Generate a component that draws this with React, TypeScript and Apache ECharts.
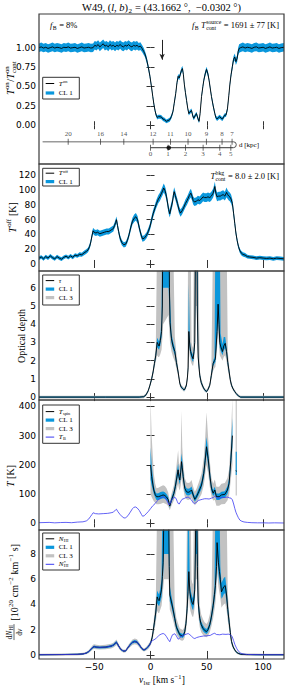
import React, { useEffect, useRef } from 'react';
import * as echarts from 'echarts';

// ---------------- data ----------------
// [v_lsr, T_on/T_on_cont, CL1 half width]
const tOnRatio: number[][] = [
  [-99, 1.0, 0.055], [-97, 1.01, 0.055], [-95, 0.995, 0.055], [-93, 1.005, 0.055], [-91, 0.99, 0.055],
  [-89, 1.0, 0.055], [-87, 1.01, 0.055], [-85, 0.995, 0.055], [-83, 1.005, 0.055], [-81, 1.0, 0.055],
  [-79, 0.99, 0.055], [-77, 1.005, 0.055], [-75, 1.0, 0.055], [-73, 1.01, 0.055], [-71, 0.995, 0.055],
  [-69, 1.0, 0.055], [-67, 1.005, 0.055], [-65, 0.99, 0.055], [-63, 1.0, 0.055], [-61, 1.01, 0.055],
  [-59, 0.995, 0.055], [-57, 1.0, 0.055], [-55, 1.005, 0.055], [-53, 0.995, 0.055], [-51, 1.0, 0.055],
  [-49.5, 1.03, 0.055], [-48, 1.02, 0.055], [-46.5, 1.04, 0.055], [-45, 1.01, 0.055], [-43.5, 1.03, 0.055],
  [-42, 1.05, 0.055], [-40.5, 1.02, 0.055], [-39, 1.03, 0.055], [-37.5, 1.01, 0.055], [-36, 1.04, 0.055],
  [-34.5, 1.02, 0.055], [-33, 1.03, 0.055], [-31.5, 1.01, 0.055], [-30, 1.03, 0.055], [-28.5, 1.02, 0.055],
  [-27, 1.04, 0.055], [-25.5, 1.02, 0.055], [-24, 1.01, 0.055], [-22.5, 1.03, 0.055], [-21, 1.02, 0.055],
  [-19.5, 1.04, 0.055], [-18, 1.02, 0.055], [-16.5, 1.01, 0.055], [-15, 1.03, 0.055], [-13.5, 1.02, 0.055],
  [-12, 1.03, 0.055], [-10.5, 1.01, 0.05], [-9, 1.02, 0.05], [-7.5, 0.99, 0.045], [-6, 0.95, 0.045],
  [-5, 0.92, 0.04], [-3.5, 0.85, 0.04], [-2, 0.75, 0.035], [-0.5, 0.63, 0.035], [1, 0.48, 0.03],
  [2, 0.37, 0.03], [3, 0.27, 0.03], [4, 0.19, 0.025], [5, 0.13, 0.025], [6, 0.1, 0.025],
  [7, 0.11, 0.025], [8.5, 0.11, 0.025], [10, 0.1, 0.025], [11, 0.08, 0.025], [12.5, 0.07, 0.025],
  [14, 0.05, 0.025], [15.5, 0.06, 0.025], [17, 0.07, 0.025], [18.5, 0.11, 0.025], [20, 0.18, 0.025],
  [21, 0.28, 0.03], [22.4, 0.41, 0.03], [23.5, 0.55, 0.03], [24.5, 0.63, 0.03], [25.5, 0.61, 0.03],
  [26.5, 0.66, 0.03], [27.5, 0.71, 0.035], [28.4, 0.73, 0.035], [29.2, 0.65, 0.03], [30, 0.53, 0.03],
  [31, 0.42, 0.03], [32, 0.32, 0.03], [33, 0.22, 0.025], [34, 0.15, 0.025], [35, 0.17, 0.025],
  [36.4, 0.19, 0.025], [37.5, 0.12, 0.025], [38.4, 0.09, 0.025], [39.5, 0.12, 0.025], [40.8, 0.15, 0.025],
  [42, 0.09, 0.025], [43.1, 0.05, 0.025], [44, 0.15, 0.025], [45.3, 0.37, 0.03], [46.5, 0.5, 0.03],
  [47.3, 0.58, 0.03], [48.5, 0.66, 0.035], [49.7, 0.72, 0.035], [51, 0.66, 0.035], [52, 0.58, 0.03],
  [53, 0.48, 0.03], [54.1, 0.37, 0.03], [55.5, 0.26, 0.03], [57.1, 0.15, 0.025], [58, 0.1, 0.025],
  [59.1, 0.08, 0.025], [60.5, 0.1, 0.025], [61.5, 0.11, 0.025], [62.7, 0.09, 0.025], [63.9, 0.08, 0.025],
  [65, 0.11, 0.025], [66, 0.13, 0.025], [67, 0.13, 0.025], [68.3, 0.21, 0.03], [69.5, 0.38, 0.03],
  [70.4, 0.52, 0.035], [71.5, 0.65, 0.035], [72.7, 0.76, 0.04], [73.7, 0.85, 0.04], [74.8, 0.88, 0.045],
  [75.8, 0.82, 0.045], [76.9, 0.86, 0.045], [77.8, 0.95, 0.05], [78.7, 0.99, 0.055], [80, 1.0, 0.055],
  [82, 1.01, 0.055], [84, 0.995, 0.055], [86, 1.005, 0.055], [88, 1.0, 0.055], [90, 0.99, 0.055],
  [92, 1.005, 0.055], [94, 1.01, 0.055], [96, 0.995, 0.055], [98, 1.0, 0.055], [100, 1.005, 0.055],
  [102, 0.99, 0.055], [104, 1.0, 0.055], [106, 1.01, 0.055], [108, 0.995, 0.055], [110, 1.0, 0.055],
  [112, 1.005, 0.055], [114, 0.99, 0.055], [116, 1.0, 0.055], [118.5, 1.005, 0.055],
];

// [v_lsr, T_off (K), CL1 half width]
const tOff: number[][] = [
  [-99, 8, 2.5], [-97, 9.5, 2.5], [-95, 7, 2.5], [-93, 10, 2.5], [-91, 8, 2.5], [-89, 11, 2.5],
  [-87, 8.5, 2.5], [-85, 7, 2.5], [-83, 10, 2.5], [-81, 8, 2.5], [-79, 6.5, 2.5], [-77, 9, 2.5],
  [-75, 10.5, 2.5], [-73, 8.5, 2.5], [-71, 11, 2.5], [-69, 9, 2.5], [-67, 12, 2.5], [-65, 11, 2.5],
  [-63, 13, 2.8], [-61, 12.5, 2.8], [-59, 15, 3], [-57, 17, 3], [-55.5, 19, 3], [-54, 24, 3.5],
  [-53, 30, 3.5], [-52, 38, 3.5], [-51, 45, 4], [-50, 43, 4], [-48.5, 42, 4], [-47, 43, 4],
  [-45, 41, 4], [-43, 42, 4], [-41, 43, 4], [-39, 44, 4], [-37, 44, 4], [-35, 46, 4],
  [-33, 48, 4], [-32, 52, 4], [-31, 56, 4.5], [-30.2, 60, 4.5], [-29.3, 52, 4.5], [-28.3, 44, 4],
  [-27.2, 36, 4], [-25.5, 29, 3.5], [-23.7, 26, 3.5], [-22, 27, 3.5], [-20.5, 32, 3.5], [-19, 40, 4],
  [-17.5, 50, 4.5], [-16, 58, 4.5], [-14.5, 62, 5], [-13, 64, 5], [-11.5, 60, 5], [-10.1, 50, 4.5],
  [-8.5, 40, 4], [-7.1, 34, 4], [-5.5, 35, 4], [-3.5, 39, 4], [-2, 44, 4.5], [-0.6, 50, 4.5],
  [1, 60, 5], [2.3, 68, 5], [4, 76, 5], [5.3, 82, 5.5], [7, 88, 5.5], [8.3, 91, 5.5],
  [9.5, 95, 5.5], [10.7, 99, 6], [11.7, 103, 6], [12.7, 100, 6], [13.5, 96, 6], [14.2, 91, 5.5],
  [15, 84, 5.5], [16, 74, 5.5], [17.1, 68, 5], [18.2, 76, 5.5], [19.5, 84, 5.5], [20.3, 93, 5.5],
  [21, 98, 6], [22, 93, 5.5], [23, 87, 5.5], [24, 82, 5.5], [25.2, 74, 5], [26.6, 69, 5],
  [28, 72, 5], [29.6, 77, 5], [31, 82, 5.5], [32.5, 86, 5.5], [33.4, 89, 5.5], [34.5, 93, 5.5],
  [35.8, 96, 6], [36.8, 92, 5.5], [37.9, 86, 5.5], [39, 84, 5.5], [40.8, 85, 5.5], [42, 87, 5.5],
  [43.7, 86, 5.5], [45, 88, 6], [46.7, 91, 6], [48, 90, 6], [49.7, 90, 6], [51, 91, 6],
  [52.6, 90, 6], [54, 92, 6], [55.6, 96, 6], [56.5, 101, 6.5], [57.1, 105, 6.5], [58, 96, 6],
  [59.1, 91, 6], [60.5, 92, 6], [62, 92, 6], [63, 93, 6], [64.5, 94, 6], [66, 92, 6],
  [67.5, 97, 6.5], [68.5, 94, 6], [69.5, 92, 6], [70.4, 91, 6], [71.5, 88, 6], [72.7, 82, 5.5],
  [73.8, 68, 5], [74.8, 55, 4.5], [75.8, 42, 4], [76.9, 32, 3.5], [78, 24, 3], [79.3, 18, 3],
  [80.5, 15, 3], [82, 13, 2.8], [84, 12, 2.8], [86, 10, 2.5], [88, 9.5, 2.5], [91, 9, 2.5],
  [94, 8, 2.5], [97, 8.5, 2.5], [100, 8, 2.5], [103, 7.5, 2.5], [106, 8, 2.5], [109, 7, 2.5],
  [112, 8, 2.5], [115, 7.5, 2.5], [118.5, 7, 2.5],
];

// [v_lsr, tau, CL1 low, CL1 high, CL3 low, CL3 high]
const tau: number[][] = [
  [-99, 0, -0.03, 0.03, -0.08, 0.08], [-40, 0, -0.03, 0.03, -0.08, 0.08], [-10, 0, -0.03, 0.03, -0.08, 0.08],
  [-6, 0.02, -0.01, 0.05, -0.06, 0.1], [-4, 0.12, 0.09, 0.15, 0.05, 0.2], [-2, 0.35, 0.31, 0.39, 0.27, 0.45],
  [-0.5, 0.65, 0.6, 0.7, 0.55, 0.77], [1, 1.0, 0.93, 1.07, 0.86, 1.15], [2.3, 1.38, 1.3, 1.47, 1.2, 1.6],
  [3.5, 1.85, 1.75, 1.97, 1.6, 2.15], [4.7, 2.3, 2.15, 2.45, 1.95, 2.8], [5.9, 3.0, 2.75, 3.25, 2.3, 9],
  [6.8, 2.9, 2.65, 3.15, 2.2, 9], [7.6, 2.8, 2.6, 3.05, 2.2, 9], [8.7, 3.1, 2.85, 3.4, 2.35, 9],
  [9.8, 3.6, 3.3, 4.2, 2.6, 9], [10.5, 5.0, 4.4, 12, 3.2, 12], [11.2, 12, 6, 12, 4, 12],
  [16, 12, 6, 12, 4.5, 12], [16.8, 6, 4.8, 12, 3.5, 12], [17.3, 4.1, 3.7, 5.5, 3.0, 12],
  [18.6, 3.2, 2.95, 3.5, 2.5, 12], [20, 2.8, 2.6, 3.05, 2.2, 9], [21.6, 2.5, 2.3, 2.7, 1.95, 3.3],
  [23, 1.9, 1.78, 2.05, 1.55, 2.4], [24.5, 1.38, 1.3, 1.47, 1.15, 1.65], [26, 0.75, 0.7, 0.82, 0.6, 0.92],
  [27.2, 0.55, 0.5, 0.6, 0.43, 0.68], [28.4, 0.48, 0.44, 0.53, 0.37, 0.6], [29.5, 0.4, 0.36, 0.44, 0.3, 0.52],
  [30.4, 0.42, 0.38, 0.47, 0.32, 0.55], [31.2, 0.55, 0.5, 0.6, 0.43, 0.68], [31.9, 0.66, 0.6, 0.72, 0.52, 0.82],
  [32.8, 1.1, 1.0, 1.2, 0.88, 1.4], [33.4, 1.6, 1.45, 1.8, 1.3, 9], [34, 3.6, 3.2, 6.2, 2.7, 9],
  [34.9, 2.8, 2.55, 3.1, 2.2, 9], [35.6, 2.5, 2.3, 2.75, 2.0, 9], [36.4, 2.3, 2.1, 2.5, 1.85, 3.0],
  [37.1, 2.2, 2.0, 2.4, 1.75, 2.8], [37.8, 2.1, 1.92, 2.3, 1.7, 2.7], [38.6, 2.5, 2.3, 2.75, 2.0, 9],
  [39.3, 3.0, 2.75, 3.4, 2.4, 9], [39.8, 8, 5, 12, 3.5, 12], [40.3, 12, 8, 12, 5, 12],
  [41, 12, 8, 12, 5, 12], [41.5, 5, 3.8, 12, 3, 12], [42.3, 2.2, 2.0, 2.45, 1.7, 9],
  [43.7, 1.2, 1.1, 1.32, 0.95, 1.5], [45, 0.8, 0.73, 0.88, 0.63, 1.0], [46.7, 0.55, 0.5, 0.6, 0.43, 0.68],
  [48, 0.4, 0.36, 0.44, 0.3, 0.5], [49.7, 0.3, 0.27, 0.34, 0.22, 0.4], [51, 0.42, 0.38, 0.46, 0.32, 0.52],
  [52.6, 0.65, 0.6, 0.71, 0.52, 0.8], [54, 1.2, 1.1, 1.32, 0.95, 1.5], [55.6, 1.85, 1.7, 2.0, 1.45, 9],
  [56.8, 2.0, 1.85, 2.2, 1.6, 9], [57.6, 2.1, 1.93, 9, 1.65, 9], [59.1, 3.6, 3.2, 9, 2.7, 9],
  [60, 5.1, 4.4, 9, 3.5, 9], [60.8, 4.0, 3.5, 9, 2.9, 9], [61.5, 3.0, 2.7, 9, 2.3, 9],
  [62.2, 2.8, 2.55, 3.5, 2.2, 9], [63.9, 2.5, 2.3, 2.9, 2.0, 9], [65, 2.8, 2.55, 3.3, 2.2, 9],
  [66.3, 2.95, 2.7, 3.3, 2.3, 9], [67.5, 2.5, 2.3, 2.75, 1.95, 9], [68.6, 1.9, 1.75, 2.05, 1.5, 2.5],
  [69.8, 1.38, 1.27, 1.5, 1.1, 1.7], [70.8, 0.95, 0.88, 1.03, 0.75, 1.18], [71.9, 0.65, 0.6, 0.7, 0.52, 0.8],
  [73.3, 0.45, 0.41, 0.49, 0.35, 0.56], [74.8, 0.3, 0.27, 0.33, 0.22, 0.4], [76, 0.2, 0.17, 0.23, 0.12, 0.28],
  [76.9, 0.13, 0.1, 0.16, 0.06, 0.22], [78, 0.07, 0.04, 0.1, 0.0, 0.15], [79.3, 0.02, -0.01, 0.05, -0.05, 0.1],
  [80, 0, -0.03, 0.03, -0.08, 0.08], [118.5, 0, -0.03, 0.03, -0.08, 0.08],
];

// [v_lsr, T_spin (K), CL1 low, CL1 high, CL3 low, CL3 high]
const tSpin: number[][] = [
  [0, 200, 150, 260, 100, 430], [1, 160, 130, 200, 90, 300], [2.9, 114, 100, 130, 75, 170],
  [4.2, 98, 88, 110, 70, 135], [5.3, 91, 80, 102, 65, 120], [7, 91, 80, 103, 65, 122],
  [8.5, 93, 82, 106, 66, 125], [9.8, 95, 84, 108, 68, 128], [11.2, 97, 86, 109, 70, 130],
  [12.7, 95, 84, 106, 68, 128], [14.2, 90, 80, 100, 65, 120], [15.7, 81, 72, 90, 58, 105],
  [17.1, 59, 53, 66, 45, 75], [18.6, 79, 71, 88, 60, 100], [20.7, 102, 92, 113, 78, 130],
  [22, 125, 112, 140, 95, 165], [23, 148, 133, 165, 112, 195], [24.5, 183, 165, 205, 135, 250],
  [25.2, 160, 145, 178, 120, 210], [26, 148, 133, 165, 112, 195], [26.8, 175, 158, 195, 130, 235],
  [27.5, 211, 190, 240, 155, 385], [28.2, 190, 170, 215, 140, 260], [29, 160, 144, 178, 120, 210],
  [30.4, 120, 108, 133, 92, 155], [31.9, 108, 97, 120, 82, 140], [33.4, 106, 95, 118, 80, 138],
  [34.9, 108, 97, 120, 82, 140], [36.4, 114, 102, 126, 86, 148], [37.9, 97, 87, 108, 74, 125],
  [39.3, 82, 74, 92, 62, 108], [40.8, 91, 82, 101, 68, 118], [42.8, 108, 97, 120, 82, 140],
  [45.3, 131, 118, 146, 100, 170], [47.3, 171, 154, 190, 130, 225], [48.5, 215, 194, 240, 165, 290],
  [49.7, 262, 236, 295, 200, 380], [51.2, 221, 199, 246, 170, 290], [52.6, 165, 148, 184, 125, 215],
  [54.1, 120, 108, 133, 92, 155], [55.6, 103, 93, 114, 78, 135], [57.1, 114, 100, 125, 80, 150],
  [58.5, 91, 80, 102, 60, 125], [60.9, 91, 80, 102, 60, 125], [63, 97, 85, 108, 65, 135],
  [66, 99, 87, 110, 66, 138], [68.3, 114, 100, 127, 78, 155], [69.8, 137, 122, 155, 95, 185],
  [71.3, 216, 190, 245, 150, 290], [72.7, 300, 260, 360, 200, 430],
];
const tSpinTail: number[][] = [
  [75.6, 180, 165, 245, 95, 430], [76.6, 178, 165, 245, 95, 430],
];

// [v_lsr, T_B (K)]
const tB: number[][] = [
  [-99, 2], [-90, 3], [-85, 1.5], [-80, 2.5], [-75, 3], [-70, 2], [-65, 4], [-60, 5], [-57, 8],
  [-55, 14], [-53.5, 22], [-52, 30], [-50.9, 36], [-49, 33], [-46, 32], [-42, 33], [-38, 34],
  [-35, 36], [-33, 38], [-31, 46], [-30.2, 48], [-29, 40], [-27, 30], [-25, 22], [-23.5, 18],
  [-22, 19], [-20, 26], [-18, 38], [-16, 50], [-15, 54], [-13.5, 56], [-12, 53], [-10, 44],
  [-8, 30], [-7, 24], [-5.5, 26], [-4, 32], [-2, 40], [0, 50], [2, 60], [4, 67], [5.3, 74],
  [7, 80], [8.3, 86], [10, 89], [11.5, 91], [13, 88], [14.2, 80], [15.5, 70], [16.5, 63],
  [17.5, 68], [18.6, 79], [20, 86], [21.6, 89], [22.5, 86], [23.7, 75], [24.5, 68], [25.5, 66],
  [26.5, 73], [28, 82], [30, 85], [31.5, 88], [33.4, 90], [35, 85], [36.4, 80], [37.9, 70],
  [39.3, 68], [40.8, 72], [42.5, 78], [44, 80], [46, 82], [48, 84], [50, 84], [52, 83], [54, 86],
  [55.6, 88], [57, 93], [58.5, 88], [60, 86], [62, 87], [64, 89], [66, 88], [68, 90], [70, 87],
  [71.5, 86], [72.7, 80], [73.8, 66], [74.8, 51], [75.8, 38], [76.9, 28], [78, 19], [79.3, 11],
  [81, 7], [83, 4.5], [86, 3], [90, 2], [95, 1.5], [100, 1.5], [105, 1], [110, 1.5], [118.5, 1],
];

// [v_lsr, dN_HI/dv (1e20), CL1 low, CL1 high, CL3 low, CL3 high]
const nHI: number[][] = [
  [-99, 0.02, -0.02, 0.06, -0.07, 0.1], [-80, 0.03, -0.01, 0.07, -0.06, 0.11], [-65, 0.05, 0.01, 0.09, -0.04, 0.13],
  [-60, 0.08, 0.04, 0.12, -0.01, 0.17], [-57, 0.15, 0.1, 0.2, 0.05, 0.25], [-55, 0.26, 0.2, 0.32, 0.14, 0.38],
  [-53, 0.45, 0.38, 0.52, 0.3, 0.6], [-51, 0.62, 0.54, 0.7, 0.45, 0.8], [-50, 0.66, 0.58, 0.74, 0.48, 0.84],
  [-48, 0.62, 0.54, 0.7, 0.45, 0.8], [-45, 0.6, 0.52, 0.68, 0.44, 0.77], [-40, 0.62, 0.54, 0.7, 0.45, 0.8],
  [-35, 0.7, 0.62, 0.78, 0.52, 0.88], [-33, 0.78, 0.7, 0.87, 0.6, 0.97], [-31.5, 0.9, 0.8, 1.0, 0.7, 1.1],
  [-30.2, 1.0, 0.9, 1.1, 0.78, 1.22], [-29, 0.82, 0.73, 0.91, 0.63, 1.01], [-27.2, 0.55, 0.48, 0.62, 0.4, 0.7],
  [-25.5, 0.38, 0.32, 0.44, 0.25, 0.51], [-23.7, 0.3, 0.25, 0.35, 0.18, 0.42], [-22, 0.33, 0.28, 0.38, 0.21, 0.45],
  [-19.9, 0.6, 0.53, 0.67, 0.45, 0.76], [-18, 0.82, 0.73, 0.91, 0.63, 1.01], [-16, 1.0, 0.9, 1.1, 0.78, 1.22],
  [-14, 1.07, 0.96, 1.18, 0.84, 1.3], [-12, 1.02, 0.92, 1.12, 0.8, 1.24], [-10, 0.8, 0.71, 0.89, 0.61, 0.99],
  [-8, 0.55, 0.48, 0.62, 0.4, 0.7], [-6.5, 0.42, 0.36, 0.48, 0.29, 0.55], [-5, 0.42, 0.36, 0.48, 0.29, 0.55],
  [-3.5, 0.52, 0.45, 0.59, 0.37, 0.67], [-2, 0.66, 0.58, 0.74, 0.48, 0.84], [-0.5, 0.85, 0.76, 0.94, 0.65, 1.05],
  [0.5, 1.06, 0.95, 1.17, 0.82, 1.32], [1.5, 1.4, 1.26, 1.54, 1.1, 1.75], [2.3, 1.85, 1.67, 2.05, 1.45, 2.3],
  [3.5, 2.6, 2.35, 2.87, 2.0, 3.3], [4.7, 3.4, 3.05, 3.75, 2.6, 4.4], [5.9, 4.6, 4.1, 5.1, 3.5, 12],
  [6.8, 4.4, 3.95, 4.9, 3.35, 12], [7.6, 4.3, 3.85, 4.8, 3.3, 12], [8.7, 4.7, 4.2, 5.3, 3.6, 12],
  [9.8, 5.2, 4.6, 6.0, 3.9, 12], [10.5, 6.2, 5.4, 12, 4.5, 12], [11.2, 7.3, 6.3, 12, 5.2, 12],
  [12, 12, 8, 12, 6, 12], [16, 12, 8, 12, 6, 12], [16.6, 7, 6, 12, 5, 12],
  [17.1, 4.75, 4.25, 5.5, 3.6, 12], [18.6, 4.2, 3.8, 4.65, 3.2, 12], [20, 3.6, 3.25, 4.0, 2.75, 12],
  [21.5, 2.9, 2.6, 3.2, 2.2, 3.9], [23, 2.2, 1.98, 2.45, 1.65, 2.9], [24.5, 1.9, 1.7, 2.1, 1.42, 2.5],
  [26, 1.6, 1.44, 1.77, 1.2, 2.1], [27.2, 1.55, 1.4, 1.72, 1.15, 2.05], [28.4, 1.5, 1.35, 1.66, 1.12, 1.98],
  [29.5, 1.6, 1.44, 1.77, 1.2, 2.1], [30.4, 1.85, 1.67, 2.05, 1.4, 2.4], [31.5, 2.5, 2.25, 2.78, 1.9, 3.3],
  [32.5, 3.7, 3.3, 4.1, 2.8, 12], [33.3, 5, 4.4, 12, 3.7, 12], [34, 6.6, 5.8, 12, 4.8, 12],
  [34.9, 5.0, 4.45, 5.6, 3.75, 12], [35.6, 4.6, 4.1, 5.15, 3.45, 12], [36.4, 4.3, 3.85, 4.8, 3.2, 6.0],
  [37.1, 4.1, 3.65, 4.6, 3.05, 5.7], [37.8, 4.0, 3.55, 4.5, 3.0, 5.6], [38.6, 4.5, 4.0, 5.1, 3.35, 12],
  [39.3, 5.2, 4.6, 6.2, 3.9, 12], [39.8, 8, 6.5, 12, 5, 12], [40.3, 12, 8, 12, 6, 12],
  [41, 12, 8, 12, 6, 12], [41.6, 7, 5.8, 12, 4.8, 12], [42.3, 4.2, 3.75, 4.7, 3.15, 12],
  [43.7, 2.9, 2.6, 3.22, 2.2, 3.9], [45, 2.4, 2.15, 2.66, 1.8, 3.2], [46.7, 2.1, 1.88, 2.33, 1.58, 2.8],
  [48, 1.95, 1.75, 2.16, 1.46, 2.6], [49.7, 1.85, 1.66, 2.05, 1.4, 2.45], [51, 2.0, 1.8, 2.22, 1.5, 2.65],
  [52.6, 2.4, 2.15, 2.66, 1.8, 3.2], [54, 3.0, 2.7, 3.33, 2.25, 4.0], [55.6, 3.9, 3.5, 4.35, 2.9, 12],
  [56.8, 4.8, 4.3, 5.4, 3.6, 12], [57.6, 5.5, 4.9, 12, 4.1, 12], [58.6, 7, 6.2, 12, 5.2, 12],
  [59.1, 8.9, 7.8, 12, 6.5, 12], [60.3, 7.3, 6.4, 12, 5.4, 12], [61.2, 6.6, 5.8, 12, 4.9, 12],
  [62, 6.0, 5.3, 7.0, 4.5, 12], [63, 5.0, 4.45, 5.7, 3.75, 12], [64, 5.2, 4.6, 5.9, 3.9, 12],
  [65, 5.4, 4.8, 6.1, 4.0, 12], [66.3, 5.5, 4.9, 6.2, 4.1, 12], [67.5, 4.75, 4.2, 5.35, 3.55, 12],
  [68.6, 3.6, 3.2, 4.05, 2.7, 4.8], [69.8, 2.6, 2.3, 2.92, 1.95, 3.45], [70.8, 1.8, 1.6, 2.02, 1.35, 2.4],
  [71.9, 1.06, 0.95, 1.18, 0.8, 1.4], [73.3, 0.65, 0.58, 0.73, 0.48, 0.85], [74.8, 0.4, 0.35, 0.45, 0.28, 0.53],
  [76.3, 0.22, 0.18, 0.26, 0.12, 0.32], [77.8, 0.13, 0.09, 0.17, 0.03, 0.22], [80, 0.06, 0.02, 0.1, -0.03, 0.15],
  [85, 0.03, -0.01, 0.07, -0.06, 0.12], [100, 0.02, -0.02, 0.06, -0.07, 0.1], [118.5, 0.02, -0.02, 0.06, -0.07, 0.1],
];

// [v_lsr, N*_HI (1e20)]
const nStar: number[][] = [
  [-99, 0.02], [-80, 0.03], [-65, 0.05], [-60, 0.08], [-57, 0.15], [-55, 0.26], [-53, 0.45], [-51, 0.62],
  [-50, 0.66], [-48, 0.62], [-45, 0.6], [-40, 0.62], [-35, 0.7], [-33, 0.78], [-31.5, 0.9], [-30.2, 1.0],
  [-29, 0.82], [-27.2, 0.55], [-25.5, 0.38], [-23.7, 0.3], [-22, 0.33], [-19.9, 0.6], [-18, 0.82],
  [-16, 1.0], [-14, 1.07], [-12, 1.02], [-10, 0.8], [-8, 0.55], [-6.5, 0.42], [-5, 0.42], [-3.5, 0.52],
  [-2, 0.66], [-0.5, 0.85], [0.5, 1.05], [2, 1.15], [4, 1.25], [5.3, 1.35], [7, 1.5], [8.3, 1.6],
  [10, 1.67], [11.2, 1.7], [12.5, 1.65], [14.2, 1.45], [15.5, 1.25], [17.1, 1.05], [18.3, 1.35],
  [19.5, 1.6], [21.6, 1.68], [23, 1.5], [24.5, 1.25], [25.5, 1.3], [27.5, 1.5], [30.4, 1.6], [33.4, 1.7],
  [35, 1.6], [36.4, 1.48], [38, 1.35], [39.3, 1.3], [41, 1.38], [43.7, 1.45], [47, 1.5], [50, 1.52],
  [53, 1.55], [55.6, 1.68], [57, 1.72], [58.5, 1.62], [61.5, 1.6], [64, 1.65], [67, 1.63], [69, 1.65],
  [71, 1.6], [72.5, 1.45], [73.7, 1.15], [75, 0.8], [76.6, 0.5], [78, 0.3], [80, 0.15], [82, 0.08],
  [86, 0.04], [100, 0.02], [118.5, 0.02],
];

// kinematic distance scale (d in kpc at v_lsr)
const distFarLabels = [20, 16, 14, 12, 11, 10, 9, 8, 7];
const distFarVel = [-73.1, -44.4, -23.7, 2.3, 17.7, 33.3, 49.6, 63.5, 72.4];
const distNearLabels = [0, 1, 2, 3, 4, 5];
const distNearVel = [0, 15.6, 31.1, 46.7, 61.5, 71.3];
const sourceVel = 16.2;
const arrowVel = 10.3;

const xTicks = [-50, 0, 50, 100];
const yTicksRatio = [0, 0.25, 0.5, 0.75, 1];
const yTicksToff = [0, 20, 40, 60, 80, 100, 120];
const yTicksTau = [0, 1, 2, 3, 4, 5, 6];
const yTicksT = [0, 100, 200, 300, 400];
const yTicksN = [0, 2, 4, 6, 8];

// ---------------- style / layout ----------------
const SERIF = 'Liberation Serif';
const SANS = 'DejaVu Sans';
const BLUE = '#0a97dc';
const GREY = '#c2c2c2';
const TBC = '#3b3bf2';
const FRAME = '#3a3a3a';
const LEFT = 39;
const WIDTH = 245;
const VMIN = -99;
const VMAX = 118.5;

const PANELS = [
  { top: 14, height: 150, min: -0.5, max: 1.434, ticks: yTicksRatio, fmt: (v: number) => v.toFixed(2) },
  { top: 164, height: 107, min: -9.5, max: 135.5, ticks: yTicksToff, fmt: (v: number) => String(v) },
  { top: 271, height: 129, min: -0.16, max: 6.92, ticks: yTicksTau, fmt: (v: number) => String(v) },
  { top: 400, height: 130, min: -23, max: 422, ticks: yTicksT, fmt: (v: number) => String(v) },
  { top: 530, height: 129, min: -0.32, max: 9.9, ticks: yTicksN, fmt: (v: number) => String(v) },
];

// ---------------- math-text helper ----------------
let measureCtx: any = null;
function tw(s: string, size: number, it: boolean) {
  if (!measureCtx) measureCtx = document.createElement('canvas').getContext('2d');
  measureCtx.font = `${it ? 'italic ' : ''}${size}px "${SERIF}"`;
  return measureCtx.measureText(s).width;
}
function txt(s: string, x: number, y: number, size: number, it: boolean, color: string) {
  return {
    type: 'text', x, y, z: 100, silent: true,
    style: {
      text: s, fontSize: size, fontFamily: SERIF, fontStyle: it ? 'italic' : 'normal', fill: color,
      align: 'left', verticalAlign: 'middle', textAlign: 'left', textVerticalAlign: 'middle',
    },
  };
}
type Tok = { t?: string; it?: boolean; sup?: string; sub?: string; supIt?: boolean; frac?: { num: Tok[]; den: Tok[] } };
function layoutToks(toks: Tok[], size: number, color: string, tight = false): { kids: any[]; width: number } {
  const kids: any[] = [];
  let x = 0;
  const supDy = tight ? -size * 0.3 : -size * 0.36;
  const subDy = tight ? size * 0.22 : size * 0.3;
  const sRatio = tight ? 0.62 : 0.68;
  for (const tk of toks) {
    if (tk.frac) {
      const fs = size * 0.75;
      const n = layoutToks(tk.frac.num, fs, color);
      const d = layoutToks(tk.frac.den, fs, color);
      const w = Math.max(n.width, d.width) + 1;
      kids.push({ type: 'group', x: x + (w - n.width) / 2, y: -size * 0.5, children: n.kids });
      kids.push({ type: 'group', x: x + (w - d.width) / 2, y: size * 0.5, children: d.kids });
      kids.push({ type: 'line', z: 100, silent: true, shape: { x1: x, y1: 0, x2: x + w, y2: 0 }, style: { stroke: color, lineWidth: 0.6 } });
      x += w + 1;
      continue;
    }
    if (tk.t) {
      kids.push(txt(tk.t, x, 0, size, !!tk.it, color));
      x += tw(tk.t, size, !!tk.it);
    }
    if (tk.sup || tk.sub) {
      const ss = size * sRatio;
      let w = 0;
      if (tk.sup) {
        kids.push(txt(tk.sup, x + 0.4, supDy, ss, !!tk.supIt, color));
        w = Math.max(w, tw(tk.sup, ss, !!tk.supIt));
      }
      if (tk.sub) {
        kids.push(txt(tk.sub, x + 0.4, subDy, ss, false, color));
        w = Math.max(w, tw(tk.sub, ss, false));
      }
      x += w + 0.8;
    }
  }
  return { kids, width: x };
}
function mathText(toks: Tok[], size: number, x: number, y: number, align: string, rotation = 0, color = '#000', tight = false) {
  const { kids, width } = layoutToks(toks, size, color, tight);
  const off = align === 'center' ? -width / 2 : align === 'right' ? -width : 0;
  return { type: 'group', x, y, rotation, silent: true, children: [{ type: 'group', x: off, y: 0, children: kids }] };
}

function legendBox(top: number, height: number, entries: { kind: string; y: number; toks: Tok[] }[]) {
  const x0 = 42.7;
  const kids: any[] = [
    { type: 'rect', z: 95, silent: true, shape: { x: x0, y: top, width: 36.6, height }, style: { fill: '#fff', stroke: '#333', lineWidth: 1 } },
  ];
  for (const e of entries) {
    const col = e.kind === 'black' ? '#000' : e.kind === 'blue' ? BLUE : e.kind === 'grey' ? GREY : TBC;
    const lw = e.kind === 'blue' || e.kind === 'grey' ? 3.2 : 1;
    kids.push({ type: 'line', z: 100, silent: true, shape: { x1: x0 + 3, y1: e.y, x2: x0 + 11.5, y2: e.y }, style: { stroke: col, lineWidth: lw } });
    kids.push(mathText(e.toks, 7, x0 + 16, e.y, 'left', 0, '#000', true));
  }
  return kids;
}

function buildOption() {
  const grid: any[] = [];
  const xAxis: any[] = [];
  const yAxis: any[] = [];
  PANELS.forEach((p, i) => {
    grid.push({ left: LEFT, top: p.top, width: WIDTH, height: p.height, outerBoundsMode: 'none', containLabel: false });
    const tick = { inside: true, length: 4, lineStyle: { color: '#333', width: 1 } };
    xAxis.push({
      gridIndex: i, type: 'value', min: VMIN, max: VMAX, position: 'bottom',
      axisLine: { show: false }, splitLine: { show: false },
      axisTick: { ...tick, customValues: xTicks },
      axisLabel: {
        show: i === PANELS.length - 1, customValues: xTicks, margin: 3, fontSize: 9, fontFamily: SANS, color: '#000',
        formatter: (v: number) => (v < 0 ? '\u2212' : '') + Math.abs(v),
      },
    });
    xAxis.push({
      gridIndex: i, type: 'value', min: VMIN, max: VMAX, position: 'top',
      axisLine: { show: false }, splitLine: { show: false },
      axisTick: { ...tick, customValues: xTicks }, axisLabel: { show: false, customValues: xTicks },
    });
    yAxis.push({
      gridIndex: i, type: 'value', min: p.min, max: p.max, position: 'left',
      axisLine: { show: false }, splitLine: { show: false },
      axisTick: { ...tick, customValues: p.ticks },
      axisLabel: { customValues: p.ticks, formatter: p.fmt, margin: 3, fontSize: 9, fontFamily: SANS, color: '#000' },
    });
    yAxis.push({
      gridIndex: i, type: 'value', min: p.min, max: p.max, position: 'right',
      axisLine: { show: false }, splitLine: { show: false },
      axisTick: { ...tick, customValues: p.ticks }, axisLabel: { show: false, customValues: p.ticks },
    });
  });

  const lineS = (gi: number, data: number[][], color: string, width: number, z: number, extra: any = {}) => ({
    type: 'line', xAxisIndex: 2 * gi, yAxisIndex: 2 * gi, data, showSymbol: false, symbol: 'none',
    silent: true, z, lineStyle: { color, width }, ...extra,
  });
  const bandS = (gi: number, rows: number[][], lo: (r: number[]) => number, hi: (r: number[]) => number, color: string, z: number) => ({
    type: 'custom', xAxisIndex: 2 * gi, yAxisIndex: 2 * gi, clip: true, silent: true, z,
    data: [[rows[0][0], rows[0][1]]],
    renderItem: (_p: any, api: any) => {
      const up = rows.map((r) => api.coord([r[0], hi(r)]));
      const dn = rows.map((r) => api.coord([r[0], lo(r)])).reverse();
      return { type: 'polygon', shape: { points: up.concat(dn) }, style: { fill: color } };
    },
  });
  const xy = (rows: number[][]) => rows.map((r) => [r[0], r[1]]);

  const D_TOP = -0.213;
  const D_BOT = -0.29;
  const D_END = 73.5;
  const D_START = -95.8;

  const series: any[] = [
    // panel 1
    bandS(0, tOnRatio, (r) => r[1] - r[2], (r) => r[1] + r[2], BLUE, 2),
    lineS(0, xy(tOnRatio), '#000', 0.9, 3, {
      markLine: {
        silent: true, symbol: ['none', 'arrow'], symbolSize: [4, 6], label: { show: false },
        lineStyle: { color: '#222', width: 1, type: 'solid' },
        data: [[{ coord: [arrowVel, 1.1] }, { coord: [arrowVel, 0.845] }]],
      },
    }),
    lineS(0, [[D_START, D_TOP], [D_END, D_TOP]], '#9a9a9a', 1.3, 4),
    lineS(0, [[distNearVel[0], D_BOT], [D_END, D_BOT]], '#333', 1, 4),
    {
      type: 'scatter', xAxisIndex: 0, yAxisIndex: 0, silent: true, z: 5, symbol: 'rect', symbolSize: [0.9, 6],
      itemStyle: { color: '#333' }, data: distFarVel.map((v) => [v, D_TOP]),
      label: { show: true, position: 'top', distance: 1, fontSize: 7, fontFamily: SERIF, color: '#222', formatter: (p: any) => String(distFarLabels[p.dataIndex]) },
    },
    {
      type: 'scatter', xAxisIndex: 0, yAxisIndex: 0, silent: true, z: 5, symbol: 'rect', symbolSize: [0.9, 6],
      itemStyle: { color: '#333' }, data: distNearVel.map((v) => [v, D_BOT]),
      label: { show: true, position: 'bottom', distance: 0, fontSize: 7, fontFamily: SERIF, color: '#222', formatter: (p: any) => String(distNearLabels[p.dataIndex]) },
    },
    {
      type: 'scatter', xAxisIndex: 0, yAxisIndex: 0, silent: true, z: 6, symbol: 'circle', symbolSize: 4.5,
      itemStyle: { color: '#000' }, data: [[sourceVel, D_BOT]],
    },
    // panel 2
    bandS(1, tOff, (r) => r[1] - r[2], (r) => r[1] + r[2], BLUE, 2),
    lineS(1, xy(tOff), '#000', 0.9, 3),
    // panel 3
    bandS(2, tau, (r) => r[4], (r) => r[5], GREY, 1),
    bandS(2, tau, (r) => r[2], (r) => r[3], BLUE, 2),
    lineS(2, xy(tau), '#000', 0.9, 3),
    // panel 4
    bandS(3, tSpin, (r) => r[4], (r) => r[5], GREY, 1),
    bandS(3, tSpinTail, (r) => r[4], (r) => r[5], GREY, 1),
    bandS(3, tSpin, (r) => r[2], (r) => r[3], BLUE, 2),
    bandS(3, tSpinTail, (r) => r[2], (r) => r[3], BLUE, 2),
    lineS(3, xy(tSpin), '#000', 0.9, 3),
    lineS(3, xy(tSpinTail), '#000', 0.9, 3),
    lineS(3, tB, TBC, 0.8, 4),
    // panel 5
    bandS(4, nHI, (r) => r[4], (r) => r[5], GREY, 1),
    bandS(4, nHI, (r) => r[2], (r) => r[3], BLUE, 2),
    lineS(4, xy(nHI), '#000', 0.9, 3),
    lineS(4, nStar, TBC, 0.8, 4),
  ];

  return { animation: false, backgroundColor: '#fff', grid, xAxis, yAxis, series };
}

function buildGraphics(chart: any) {
  const els: any[] = [];
  // frames
  PANELS.forEach((p) => {
    els.push({ type: 'rect', z: 90, silent: true, shape: { x: LEFT, y: p.top, width: WIDTH, height: p.height }, style: { fill: 'none', stroke: FRAME, lineWidth: 1.2 } });
  });
  // title
  els.push(mathText([
    { t: 'W49, (' }, { t: 'l', it: true }, { t: ', ' }, { t: 'b', it: true }, { t: ')', sub: '2' },
    { t: ' = (43.1662 \u00b0,  \u22120.0302 \u00b0)' },
  ], 10.5, 161.5, 7.5, 'center'));
  // annotations
  els.push(mathText([{ t: 'f', it: true, sub: 'B' }, { t: ' = 8%' }], 8.5, 50, 25, 'left'));
  els.push(mathText([{ t: 'f', it: true, sub: 'B' }, { t: ' ' }, { t: 'T', it: true, sup: 'source', sub: 'cont' }, { t: ' = 1691 \u00b1 77 [K]' }], 8.5, 279, 25, 'right'));
  els.push(mathText([{ t: 'T', it: true, sup: 'bkg', sub: 'cont' }, { t: ' = 8.0 \u00b1 2.0 [K]' }], 8.5, 279, 176, 'right'));
  els.push(mathText([{ t: 'd [kpc]' }], 7, 239, 144.5, 'left'));
  // axis titles
  const R = Math.PI / 2;
  els.push(mathText([{ t: 'T', it: true, sup: 'on' }, { t: '/' }, { t: 'T', it: true, sup: 'on', sub: 'cont' }], 10, 10, 78, 'center', R));
  els.push(mathText([{ t: 'T', it: true, sup: 'off' }, { t: ' [K]' }], 10, 12, 217.5, 'center', R));
  els.push(mathText([{ t: 'Optical depth' }], 10, 21.7, 336, 'center', R));
  els.push(mathText([{ t: 'T', it: true }, { t: ' [K]' }], 10, 10, 476, 'center', R));
  els.push(mathText([
    { frac: { num: [{ t: 'd' }, { t: 'N', it: true, sub: 'HI' }], den: [{ t: 'd' }, { t: 'v', it: true }] } },
    { t: ' [10', sup: '20' }, { t: ' cm', sup: '\u22122' }, { t: ' km', sup: '\u22121' }, { t: ' s]' },
  ], 10, 14, 592, 'center', R));
  els.push(mathText([{ t: 'v', it: true, sub: 'lsr' }, { t: ' [km s', sup: '\u22121' }, { t: ']' }], 9.5, 162, 680, 'center'));
  // legends
  const CL1: Tok[] = [{ t: 'CL 1' }];
  const CL3: Tok[] = [{ t: 'CL 3' }];
  els.push(...legendBox(77.3, 21.7, [
    { kind: 'black', y: 83.5, toks: [{ t: 'T', it: true, sup: 'on' }] },
    { kind: 'blue', y: 93, toks: CL1 },
  ]));
  els.push(...legendBox(168.3, 17.7, [
    { kind: 'black', y: 173.2, toks: [{ t: 'T', it: true, sup: 'off' }] },
    { kind: 'blue', y: 181.6, toks: CL1 },
  ]));
  els.push(...legendBox(275, 30, [
    { kind: 'black', y: 280.6, toks: [{ t: '\u03c4', it: true }] },
    { kind: 'blue', y: 289.1, toks: CL1 },
    { kind: 'grey', y: 297.6, toks: CL3 },
  ]));
  els.push(...legendBox(405, 38.3, [
    { kind: 'black', y: 411.6, toks: [{ t: 'T', it: true, sub: 'spin' }] },
    { kind: 'blue', y: 420.1, toks: CL1 },
    { kind: 'grey', y: 428.6, toks: CL3 },
    { kind: 'tb', y: 437.1, toks: [{ t: 'T', it: true, sub: 'B' }] },
  ]));
  els.push(...legendBox(533, 37, [
    { kind: 'black', y: 538.8, toks: [{ t: 'N', it: true, sub: 'HI' }] },
    { kind: 'blue', y: 547.3, toks: CL1 },
    { kind: 'grey', y: 555.8, toks: CL3 },
    { kind: 'tb', y: 564.3, toks: [{ t: 'N', it: true, sup: '*', sub: 'HI' }] },
  ]));
  // arc joining the two distance scales
  const a = chart.convertToPixel({ gridIndex: 0 }, [73.5, -0.213]);
  const b = chart.convertToPixel({ gridIndex: 0 }, [73.5, -0.29]);
  if (a && b) {
    els.push({
      type: 'arc', z: 60, silent: true,
      shape: { cx: a[0], cy: (a[1] + b[1]) / 2, r: Math.abs(b[1] - a[1]) / 2, startAngle: -Math.PI / 2, endAngle: Math.PI / 2, clockwise: true },
      style: { stroke: '#555', fill: 'none', lineWidth: 1 },
    });
  }
  return els;
}

export default function App() {
  const ref = useRef<HTMLDivElement>(null);
  useEffect(() => {
    if (!ref.current) return;
    const chart = echarts.init(ref.current, null, { renderer: 'svg', width: 287, height: 688 });
    chart.setOption(buildOption() as any);
    chart.setOption({ graphic: { elements: buildGraphics(chart) } } as any);
    return () => chart.dispose();
  }, []);
  return <div ref={ref} style={{ position: 'fixed', left: 0, top: 0, width: 287, height: 688, background: '#fff' }} />;
}
